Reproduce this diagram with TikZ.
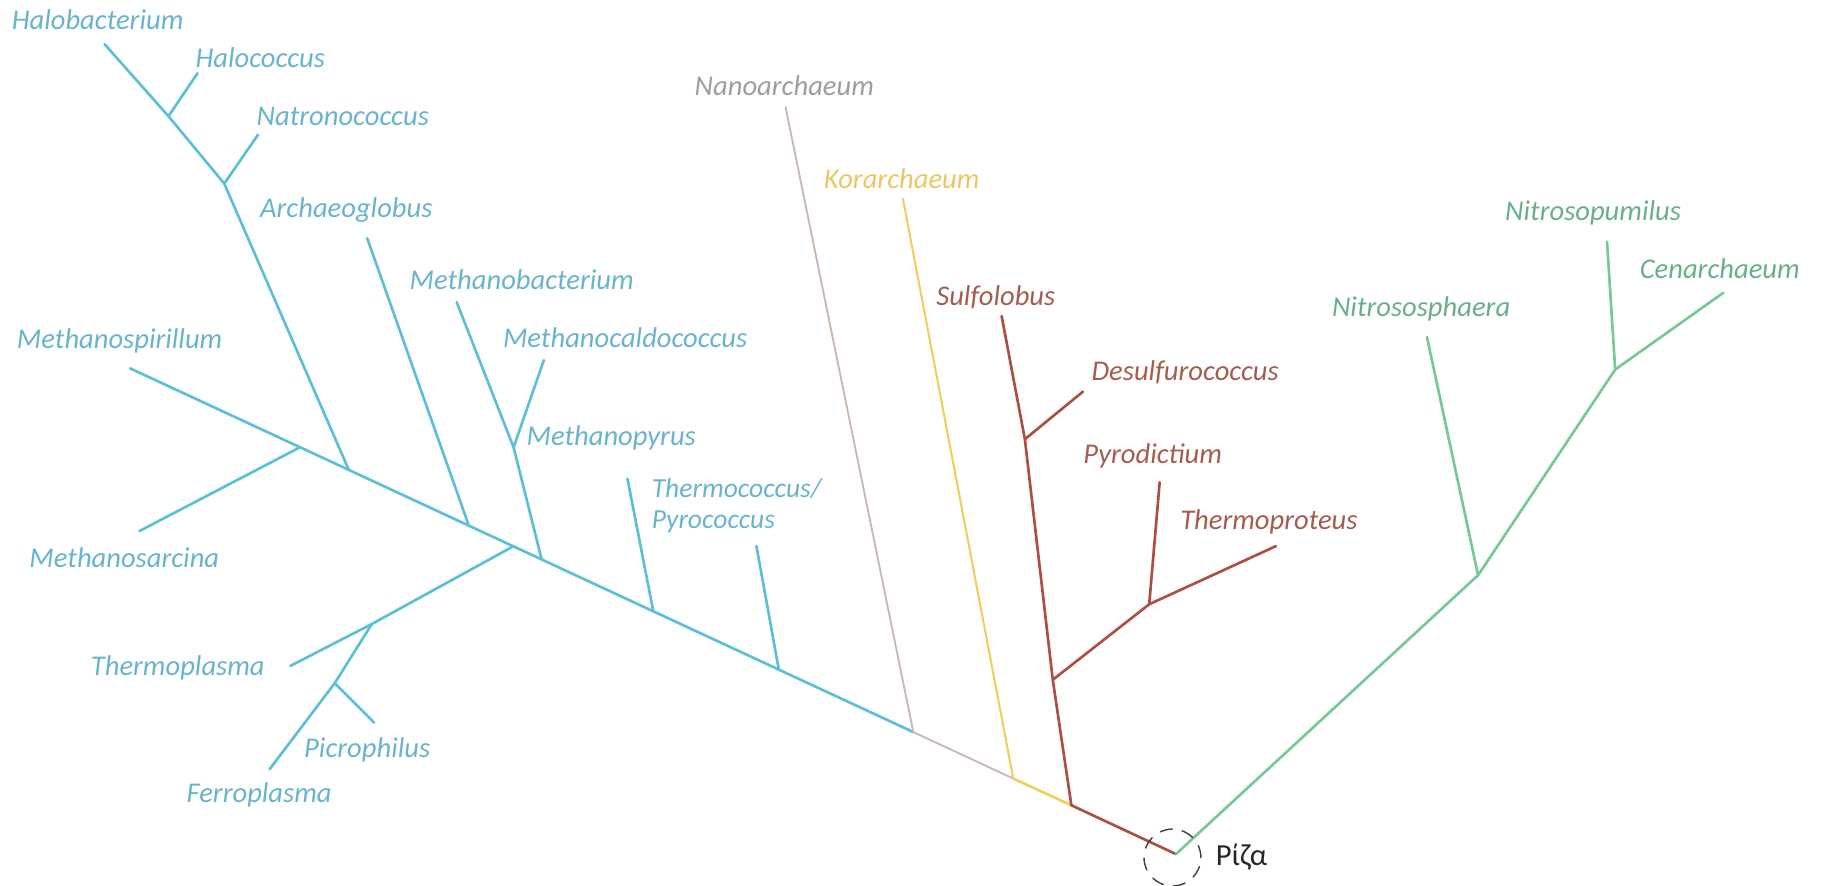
\documentclass[tikz,border=0pt]{standalone}
\usepackage{fontspec}
\setmainfont{Carlito}
\usetikzlibrary{positioning}
\definecolor{eury}{RGB}{92,190,215}
\definecolor{euryt}{RGB}{105,180,205}
\definecolor{cren}{RGB}{172,78,66}
\definecolor{crent}{RGB}{165,92,80}
\definecolor{thaum}{RGB}{118,200,150}
\definecolor{thaumt}{RGB}{105,175,138}
\definecolor{nano}{RGB}{200,180,196}
\definecolor{nanot}{RGB}{158,158,158}
\definecolor{kor}{RGB}{240,206,92}
\definecolor{kort}{RGB}{232,200,100}
\begin{document}
\begin{tikzpicture}[x=0.02cm, y=-0.02cm, line join=round, line cap=round,
	font=\fontsize{14}{16}\selectfont\itshape,
	br/.style={line width=1.3pt},
	lb/.style={inner sep=1pt}]
	\useasboundingbox (0,0) rectangle (1568,762);
	% backbone
	\coordinate (root) at (1012,735);
	\coordinate (tSpir) at (112,317);
	\coordinate (jSarc) at (258,385);
	\coordinate (jHalo) at (300,404);
	\coordinate (jArch) at (403,451);
	\coordinate (jPlas) at (442,470);
	\coordinate (jMeth) at (466,481);
	\coordinate (jPyr) at (562,525);
	\coordinate (jTher) at (670,575);
	\coordinate (jNano) at (786,630);
	\coordinate (jKor) at (872,670);
	\coordinate (jCren) at (922,693);
	% Euryarchaeota
	\coordinate (jNatr) at (193,158); \coordinate (jHcoc) at (145,100);
	\coordinate (tHbac) at (90,38); \coordinate (tHcoc) at (170,63); \coordinate (tNatr) at (222,116);
	\coordinate (tArch) at (316,205);
	\coordinate (jMbac) at (442,385); \coordinate (tMbac) at (393,260); \coordinate (tMcal) at (468,310);
	\coordinate (tMpyr) at (540,412);
	\coordinate (tTher) at (651,470);
	\coordinate (tSarc) at (120,457);
	\coordinate (jTpl) at (320,537); \coordinate (tTpl) at (250,573);
	\coordinate (jPic) at (288,588); \coordinate (tPic) at (322,622); \coordinate (tFer) at (232,662);
	% Crenarchaeota
	\coordinate (tSulf) at (862,272); \coordinate (jDes) at (882,378); \coordinate (tDes) at (932,337);
	\coordinate (jPdi) at (906,585); \coordinate (jPth) at (989,520);
	\coordinate (tPdi) at (998,415); \coordinate (tPth) at (1098,470);
	% Thaumarchaeota
	\coordinate (jNsph) at (1272,495); \coordinate (tNsph) at (1228,290);
	\coordinate (jNpum) at (1390,318); \coordinate (tNpum) at (1383,208); \coordinate (tCen) at (1483,252);
	\coordinate (tNano) at (676,92); \coordinate (tKor) at (777,171);

	\draw[br, eury] (tSpir) -- (jNano);
	\draw[br, eury] (jHalo) -- (jNatr) -- (jHcoc) -- (tHbac);
	\draw[br, eury] (jHcoc) -- (tHcoc);
	\draw[br, eury] (jNatr) -- (tNatr);
	\draw[br, eury] (jArch) -- (tArch);
	\draw[br, eury] (jMeth) -- (jMbac) -- (tMbac);
	\draw[br, eury] (jMbac) -- (tMcal);
	\draw[br, eury] (jPyr) -- (tMpyr);
	\draw[br, eury] (jTher) -- (tTher);
	\draw[br, eury] (jSarc) -- (tSarc);
	\draw[br, eury] (jPlas) -- (jTpl) -- (tTpl);
	\draw[br, eury] (jTpl) -- (jPic) -- (tFer);
	\draw[br, eury] (jPic) -- (tPic);
	\draw[line width=0.9pt, nano] (jNano) -- (jKor);
	\draw[line width=0.9pt, nano] (jNano) -- (tNano);
	\draw[br, kor] (jKor) -- (jCren);
	\draw[line width=1pt, kor] (jKor) -- (tKor);
	\draw[br, cren] (jCren) -- (root);
	\draw[br, cren] (jCren) -- (jPdi) -- (jDes) -- (tSulf);
	\draw[br, cren] (jDes) -- (tDes);
	\draw[br, cren] (jPdi) -- (jPth) -- (tPdi);
	\draw[br, cren] (jPth) -- (tPth);
	\draw[br, thaum] (root) -- (jNsph) -- (jNpum) -- (tNpum);
	\draw[br, thaum] (jNsph) -- (tNsph);
	\draw[br, thaum] (jNpum) -- (tCen);

	% labels
	\node[lb, euryt] (hbac) at (84,17) {Halobacterium};
	\node[lb, euryt] (hcoc) at (224,50) {Halococcus};
	\node[lb, euryt] (natr) at (295,100) {Natronococcus};
	\node[lb, euryt] (arch) at (298,181) {Archaeoglobus};
	\node[lb, euryt] (mbac) at (449,241) {Methanobacterium};
	\node[lb, euryt] (spir) at (103,293) {Methanospirillum};
	\node[lb, euryt] (mcal) at (538,291) {Methanocaldococcus};
	\node[lb, euryt] (mpyr) at (526,377) {Methanopyrus};
	\node[lb, euryt, align=left, font=\fontsize{13.5}{15.5}\selectfont\itshape] (ther) at (634,435) {Thermococcus/\\Pyrococcus};
	\node[lb, euryt] (sarc) at (107,480) {Methanosarcina};
	\node[lb, euryt] (tpl) at (153,575) {Thermoplasma};
	\node[lb, euryt] (pic) at (316,645) {Picrophilus};
	\node[lb, euryt] (fer) at (223,684) {Ferroplasma};
	\node[lb, nanot] (nanol) at (675,74) {Nanoarchaeum};
	\node[lb, kort] (korl) at (776,154) {Korarchaeum};
	\node[lb, crent] (sulf) at (857,256) {Sulfolobus};
	\node[lb, crent] (des) at (1020,320) {Desulfurococcus};
	\node[lb, crent] (pdi) at (992,392) {Pyrodictium};
	\node[lb, crent] (pth) at (1092,449) {Thermoproteus};
	\node[lb, thaumt] (npum) at (1371,183) {Nitrosopumilus};
	\node[lb, thaumt] (cen) at (1480,231) {Cenarchaeum};
	\node[lb, thaumt] (nsph) at (1223,266) {Nitrososphaera};

	% root
	\node[draw=black!75, dash pattern=on 6pt off 5pt, circle, minimum size=0.98cm, inner sep=0pt, line width=0.7pt] (ring) at (1009,738) {};
	\node[right=0.12cm of ring, font=\fontsize{15}{17}\selectfont\upshape, black!85] (riza) {Ρίζα};
\end{tikzpicture}
\end{document}
